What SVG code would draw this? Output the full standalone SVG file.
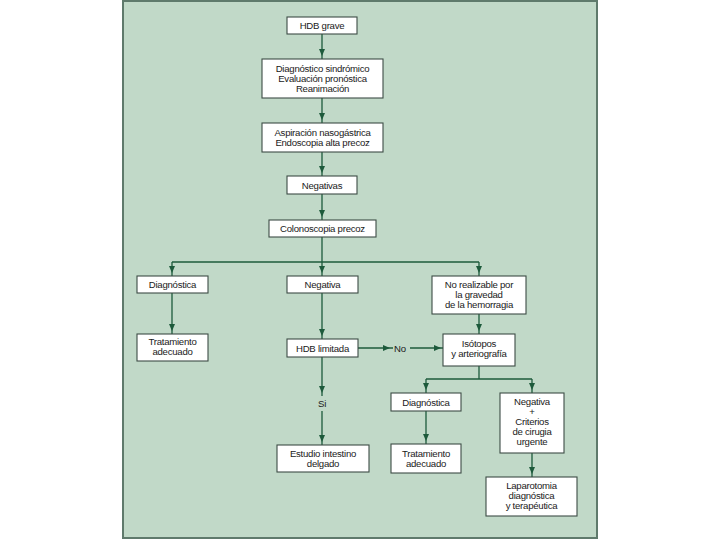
<svg xmlns="http://www.w3.org/2000/svg" width="720" height="540" viewBox="0 0 720 540">
<style>
.bg{fill:#c1d9c8;stroke:#5f7a6c;stroke-width:2}
.box{fill:#ffffff;stroke:#3d4c45;stroke-width:1.1}
.t{font-family:"Liberation Sans",Arial,sans-serif;font-size:9.6px;letter-spacing:-0.25px;fill:#1a1a1a;text-anchor:middle}
.c{fill:none;stroke:#1d5a3b;stroke-width:1.3}
.a{marker-end:url(#ah)}
</style>
<defs>
<marker id="ah" markerUnits="userSpaceOnUse" markerWidth="7" markerHeight="6" refX="10" refY="3" orient="auto">
<path d="M0,0 L7,3 L0,6 z" fill="#1d5a3b"/>
</marker>
</defs>
<rect width="720" height="540" fill="#ffffff"/>
<rect class="bg" x="123" y="1" width="474" height="537"/>
<g id="connectors">
<line class="c a" x1="322" y1="34" x2="322" y2="59"/>
<line class="c a" x1="322" y1="98" x2="322" y2="123"/>
<line class="c a" x1="322" y1="152" x2="322" y2="176"/>
<line class="c a" x1="322" y1="194" x2="322" y2="220"/>
<line class="c" x1="322" y1="237" x2="322" y2="262"/>
<line class="c" x1="172" y1="262" x2="479" y2="262"/>
<line class="c a" x1="172" y1="262" x2="172" y2="276"/>
<line class="c a" x1="322" y1="262" x2="322" y2="276"/>
<line class="c a" x1="479" y1="262" x2="479" y2="276"/>
<line class="c a" x1="172" y1="293" x2="172" y2="334"/>
<line class="c a" x1="322" y1="293" x2="322" y2="339"/>
<line class="c a" x1="479" y1="314" x2="479" y2="334"/>
<line class="c a" x1="358" y1="348" x2="393" y2="348"/>
<line class="c a" x1="410" y1="348" x2="444" y2="348"/>
<line class="c a" x1="322" y1="357" x2="322" y2="396"/>
<line class="c a" x1="322" y1="411" x2="322" y2="445"/>
<line class="c" x1="479" y1="366" x2="479" y2="379"/>
<line class="c" x1="426" y1="379" x2="532" y2="379"/>
<line class="c a" x1="426" y1="379" x2="426" y2="393"/>
<line class="c a" x1="532" y1="379" x2="532" y2="393"/>
<line class="c a" x1="426" y1="411" x2="426" y2="444"/>
<line class="c a" x1="532" y1="453" x2="532" y2="477"/>
<text class="t" x="400" y="351.5">No</text>
<text class="t" x="322" y="406.5">Si</text>
</g>
<g id="n1"><rect class="box" x="287" y="17" width="70" height="17"/><text class="t" x="322" y="29">HDB grave</text></g>
<g id="n2"><rect class="box" x="262" y="59" width="121" height="39"/><text class="t" x="322.5" y="71.5">Diagnóstico sindrómico</text><text class="t" x="322.5" y="81.5">Evaluación pronóstica</text><text class="t" x="322.5" y="91.5">Reanimación</text></g>
<g id="n3"><rect class="box" x="262" y="123" width="121" height="29"/><text class="t" x="322.5" y="135.5">Aspiración nasogástrica</text><text class="t" x="322.5" y="145.5">Endoscopia alta precoz</text></g>
<g id="n4"><rect class="box" x="287" y="176" width="70" height="18"/><text class="t" x="322" y="188.5">Negativas</text></g>
<g id="n5"><rect class="box" x="269" y="220" width="107" height="17"/><text class="t" x="322.5" y="232">Colonoscopia precoz</text></g>
<g id="n6"><rect class="box" x="137" y="276" width="71" height="17"/><text class="t" x="172.5" y="288">Diagnóstica</text></g>
<g id="n7"><rect class="box" x="287" y="276" width="71" height="17"/><text class="t" x="322.5" y="288">Negativa</text></g>
<g id="n8"><rect class="box" x="432" y="276" width="94" height="38"/><text class="t" x="479" y="288">No realizable por</text><text class="t" x="479" y="298">la gravedad</text><text class="t" x="479" y="308">de la hemorragia</text></g>
<g id="n9"><rect class="box" x="137" y="334" width="71" height="27"/><text class="t" x="172.5" y="345">Tratamiento</text><text class="t" x="172.5" y="355">adecuado</text></g>
<g id="n10"><rect class="box" x="287" y="339" width="71" height="18"/><text class="t" x="322.5" y="351.5">HDB limitada</text></g>
<g id="n11"><rect class="box" x="443" y="334" width="72" height="32"/><text class="t" x="479" y="347">Isótopos</text><text class="t" x="479" y="357">y arteriografía</text></g>
<g id="n12"><rect class="box" x="391" y="393" width="70" height="18"/><text class="t" x="426" y="405.5">Diagnóstica</text></g>
<g id="n13"><rect class="box" x="500" y="393" width="64" height="60"/><text class="t" x="532" y="405">Negativa</text><text class="t" x="532" y="415">+</text><text class="t" x="532" y="425">Criterios</text><text class="t" x="532" y="435">de cirugia</text><text class="t" x="532" y="445">urgente</text></g>
<g id="n14"><rect class="box" x="277" y="445" width="92" height="27"/><text class="t" x="323" y="456.5">Estudio intestino</text><text class="t" x="323" y="466.5">delgado</text></g>
<g id="n15"><rect class="box" x="391" y="444" width="70" height="29"/><text class="t" x="426" y="457">Tratamiento</text><text class="t" x="426" y="467">adecuado</text></g>
<g id="n16"><rect class="box" x="486" y="477" width="91" height="39"/><text class="t" x="531.5" y="489">Laparotomia</text><text class="t" x="531.5" y="499">diagnóstica</text><text class="t" x="531.5" y="509">y terapéutica</text></g>
</svg>
